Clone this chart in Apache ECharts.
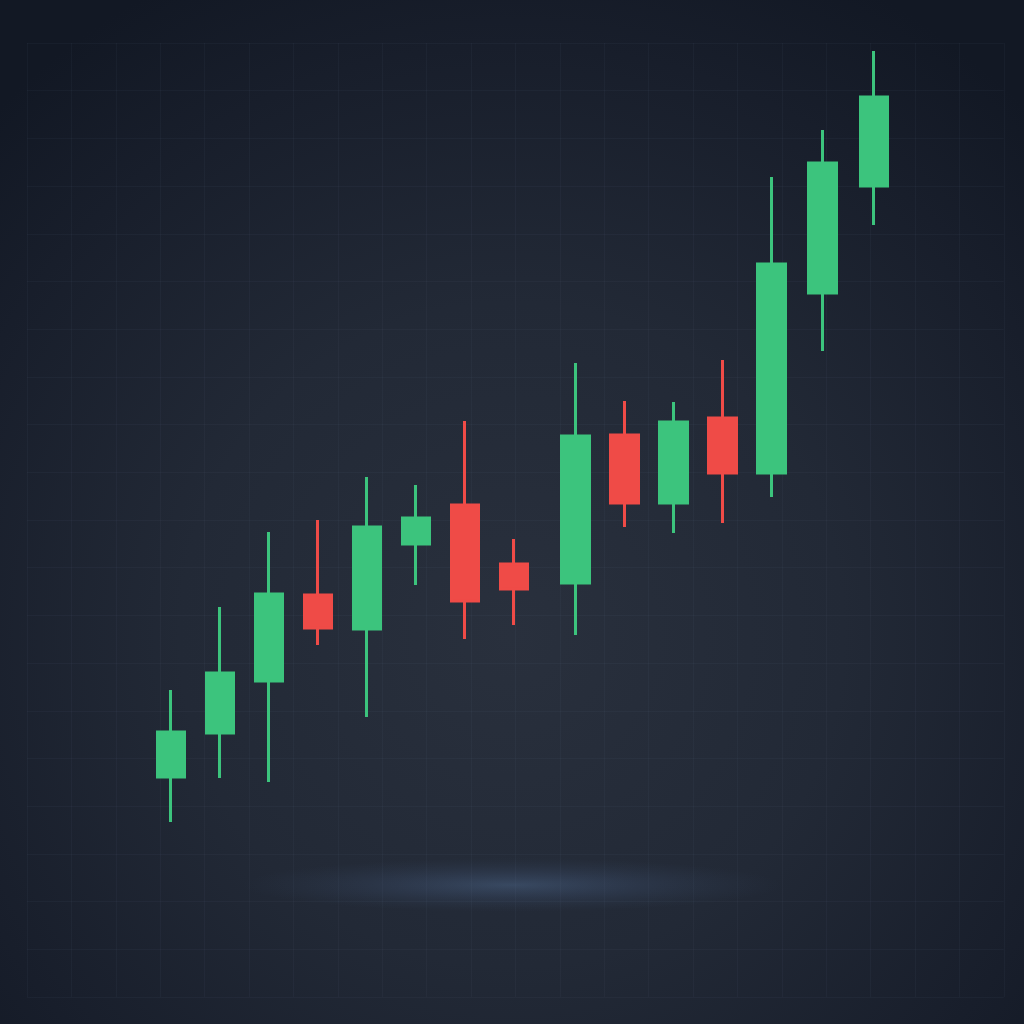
<!DOCTYPE html>
<html>
<head>
<meta charset="utf-8">
<style>
  html, body { margin: 0; padding: 0; background: #141a27; }
  #chart { width: 1024px; height: 1024px; }
</style>
<script src="https://cdn.jsdelivr.net/npm/echarts@6/dist/echarts.min.js"></script>
</head>
<body>
<div id="chart"></div>
<script>
// Trading sessions (position on the time axis; a small gap after session 8)
const sessions = [0, 1, 2, 3, 4, 5, 6, 7, 8.25, 9.25, 10.25, 11.25, 12.25, 13.3, 14.35];
const openPrices  = [114.7, 119.1, 124.3, 132.9, 129.5, 138.0, 141.9, 136.0, 134.1, 148.9, 142.1, 150.6, 145.1, 163.1, 173.8];
const closePrices = [119.2, 125.1, 133.0, 129.6, 139.7, 140.6, 132.3, 133.5, 148.8, 142.1, 150.2, 145.1, 166.0, 176.1, 182.7];
const lowPrices   = [110.2, 114.6, 114.2, 127.9, 120.7, 133.9, 128.5, 129.9, 128.9, 139.7, 139.1, 140.1, 142.7, 157.3, 169.9];
const highPrices  = [123.4, 131.7, 139.2, 140.4, 144.7, 143.9, 150.3, 138.5, 156.1, 152.3, 152.2, 156.4, 174.7, 179.4, 187.3];

const candleData = sessions.map((s, i) => [s, openPrices[i], closePrices[i], lowPrices[i], highPrices[i]]);

const chart = echarts.init(document.getElementById('chart'), null, { renderer: 'canvas' });

const option = {
  animation: false,
  backgroundColor: {
    type: 'radial', x: 0.5, y: 0.62, r: 0.72,
    colorStops: [
      { offset: 0, color: '#29303d' },
      { offset: 0.45, color: '#222936' },
      { offset: 0.8, color: '#181e2b' },
      { offset: 1, color: '#121824' }
    ]
  },
  graphic: [
    {
      type: 'circle',
      x: 512, y: 885,
      scaleX: 1, scaleY: 0.1,
      shape: { cx: 0, cy: 0, r: 270 },
      silent: true,
      z: -1,
      style: {
        fill: {
          type: 'radial', x: 0.5, y: 0.5, r: 0.5,
          colorStops: [
            { offset: 0, color: 'rgba(85,115,155,0.42)' },
            { offset: 0.45, color: 'rgba(75,100,140,0.22)' },
            { offset: 1, color: 'rgba(60,80,110,0)' }
          ]
        }
      }
    }
  ],
  grid: [
    { left: 24, width: 980, top: 24, height: 1000 },
    { left: 27, width: 976.8, top: 43, height: 954 }
  ],
  xAxis: [
    {
      type: 'value', gridIndex: 0, min: -3, max: 17,
      show: false
    },
    {
      type: 'value', gridIndex: 1, min: 0, max: 22, interval: 1,
      axisLine: { show: false }, axisTick: { show: false }, axisLabel: { show: false },
      splitLine: { show: true, lineStyle: { color: 'rgba(120,140,170,0.06)', width: 1 } }
    }
  ],
  yAxis: [
    {
      type: 'value', gridIndex: 0, min: 90, max: 190,
      show: false
    },
    {
      type: 'value', gridIndex: 1, min: 0, max: 20, interval: 1,
      axisLine: { show: false }, axisTick: { show: false }, axisLabel: { show: false },
      splitLine: { show: true, lineStyle: { color: 'rgba(120,140,170,0.06)', width: 1 } }
    }
  ],
  series: [
    {
      type: 'candlestick',
      xAxisIndex: 0, yAxisIndex: 0,
      barWidth: 28,
      encode: { x: 0, y: [1, 2, 3, 4] },
      data: candleData,
      itemStyle: {
        color: '#3cc47d',
        color0: '#ef4b47',
        borderColor: '#3cc47d',
        borderColor0: '#ef4b47',
        borderWidth: 3
      }
    }
  ]
};

chart.setOption(option);
</script>
</body>
</html>
